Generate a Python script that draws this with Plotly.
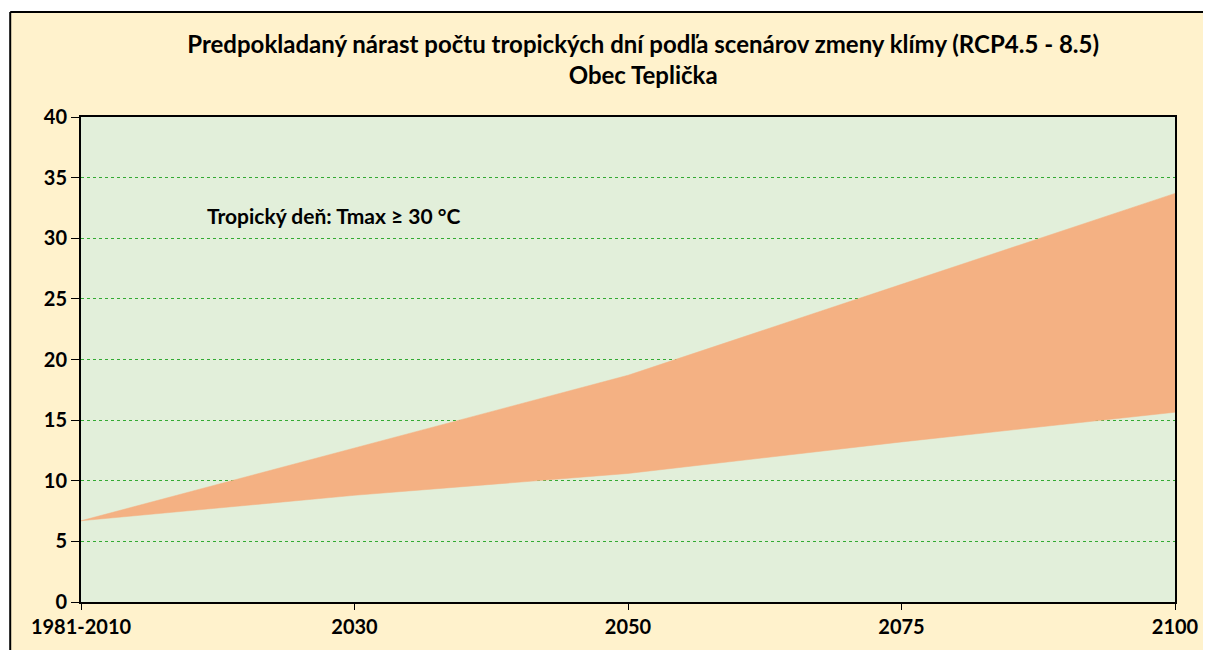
import plotly.graph_objects as go

# kategórie na osi x a hranice pásma (RCP4.5 dolná, RCP8.5 horná)
obdobia = ["1981-2010", "2030", "2050", "2075", "2100"]
rcp45 = [6.7, 8.8, 10.6, 13.2, 15.65]
rcp85 = [6.7, 12.7, 18.7, 26.2, 33.7]

fill_color = "#F4B183"
font_main = "Lato, 'Open Sans', Arial"

fig = go.Figure()
fig.add_trace(go.Scatter(
    x=obdobia, y=rcp45,
    mode="lines",
    line=dict(width=0.5, color=fill_color),
    hoverinfo="x+y",
    showlegend=False,
))
fig.add_trace(go.Scatter(
    x=obdobia, y=rcp85,
    mode="lines",
    line=dict(width=0.5, color=fill_color),
    fill="tonexty",
    fillcolor=fill_color,
    hoverinfo="x+y",
    showlegend=False,
))

fig.add_annotation(
    x=0.113, xref="paper", y=31.9, yref="y",
    text="Tropický deň: Tmax ≥ 30 °C",
    showarrow=False, xanchor="left", yanchor="middle",
    font=dict(size=21, color="black", family=font_main, weight="bold"),
)

# biely okraj mimo rámika (vľavo a hore)
fig.add_shape(
    type="rect", xref="paper", yref="paper",
    x0=-1.0, y0=-1.0, x1=-0.0647, y1=2.0,
    fillcolor="white", line=dict(width=0), layer="below",
)
fig.add_shape(
    type="rect", xref="paper", yref="paper",
    x0=-1.0, y0=1.2165, x1=2.0, y1=2.0,
    fillcolor="white", line=dict(width=0), layer="below",
)
# čierny rámik grafu (pravý a dolný okraj sú mimo obrazu)
fig.add_shape(
    type="line", xref="paper", yref="paper",
    x0=-0.0647, y0=-1.0, x1=-0.0647, y1=1.2165,
    line=dict(color="black", width=2), layer="below",
)
fig.add_shape(
    type="line", xref="paper", yref="paper",
    x0=-0.0647, y0=1.2165, x1=1.6, y1=1.2165,
    line=dict(color="black", width=2), layer="below",
)

# stránka má 8px okraj, preto je graf o 8px menší
fig.update_layout(
    width=1203, height=642,
    margin=dict(l=73, r=33, t=109, b=48),
    paper_bgcolor="#FFF2CC",
    plot_bgcolor="#E2EFDA",
    title=dict(
        text="Predpokladaný nárast počtu tropických dní podľa scenárov zmeny klímy (RCP4.5 - 8.5)<br>Obec Teplička",
        x=0.528, xanchor="center", y=0.93, yanchor="top",
        font=dict(size=24, color="black", family=font_main, weight="bold"),
    ),
    font=dict(family=font_main, color="black"),
)
fig.update_xaxes(
    type="category", range=[0, 4],
    showgrid=False, showline=True, linecolor="black", linewidth=2, mirror=True,
    ticks="outside", ticklen=6, tickcolor="black",
    tickfont=dict(size=20, color="black", weight="bold"),
)
fig.update_yaxes(
    range=[0, 40], dtick=5,
    showgrid=True, gridcolor="#33AA33", gridwidth=1, griddash="dot",
    showline=True, linecolor="black", linewidth=2, mirror=True,
    ticks="outside", ticklen=8, tickcolor="black",
    tickfont=dict(size=20, color="black", weight="bold"),
    zeroline=False,
)

fig.write_html("out.html", config={"displayModeBar": False})
